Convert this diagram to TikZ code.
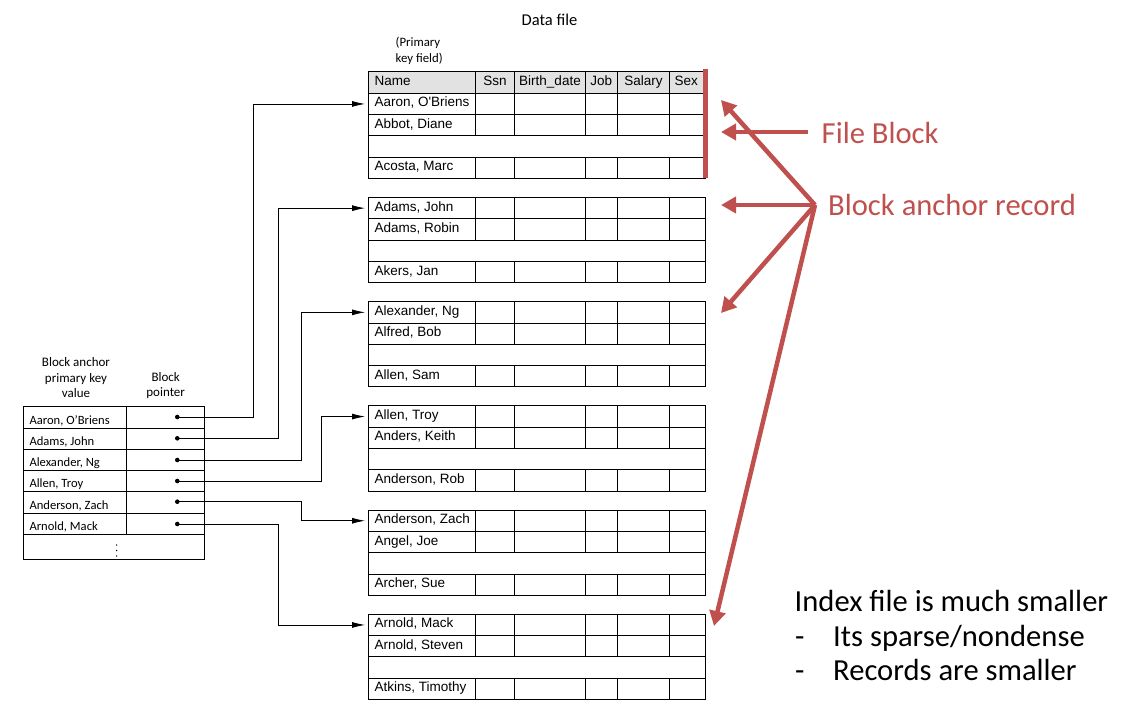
\documentclass[tikz,border=0pt]{standalone}
\usepackage{fontspec}
\setmainfont{Carlito}
\newfontfamily\arialf{Liberation Sans}
\usetikzlibrary{arrows.meta}
\definecolor{accent}{HTML}{C0504D}
\definecolor{hdrgray}{HTML}{E2E2E2}

\tikzset{
  tabline/.style={line width=0.9pt, black},
  cell/.style={inner sep=0pt, anchor=base west, font=\arialf\fontsize{13.5}{16}\selectfont},
  hcell/.style={inner sep=0pt, anchor=base, font=\arialf\fontsize{13.5}{16}\selectfont},
  ixcell/.style={inner sep=0pt, anchor=base west, font=\fontsize{12.6}{14}\selectfont},
  ixhead/.style={inner sep=0pt, align=center, font=\fontsize{13}{15.5}\selectfont},
  ptr/.style={line width=0.8pt, -{Latex[length=13pt,width=6pt]}},
  ptrdot/.style={circle, fill=black, inner sep=0pt, minimum size=4.6pt},
  callout/.style={accent, line width=4.5pt, -{Triangle[length=15pt,width=16pt]}},
  bigtext/.style={inner sep=0pt, anchor=base west, font=\fontsize{30.6}{36}\selectfont},
}

% one block of the data file: #1 block number, #2..#4 names in rows 1, 2 and 4
\newcommand\dblock[4]{%
  \pgfmathsetmacro\yt{93.3+104.2*#1}
  \draw[tabline] (368,\yt) rectangle (705,\yt+85.2);
  \foreach \r in {1,2,3} \draw[tabline] (368,\yt+21.3*\r) -- (705,\yt+21.3*\r);
  \foreach \c in {475.3,514.3,585.3,617.3,669.3} {
    \draw[tabline] (\c,\yt) -- (\c,\yt+42.6);
    \draw[tabline] (\c,\yt+63.9) -- (\c,\yt+85.2);
  }
  \node[cell] (r#1a) at (374.3,\yt+13.6) {#2};
  \node[cell] (r#1b) at (374.3,\yt+34.9) {#3};
  \node[cell] (r#1d) at (374.3,\yt+77.5) {#4};
  \coordinate (t#1) at (365,\yt+10.65);
}

\begin{document}
\begin{tikzpicture}[x=1pt,y=-1pt]
\useasboundingbox (0,0) rectangle (1125,712);

% title
\node[inner sep=0pt, anchor=base, font=\fontsize{16.5}{20}\selectfont] (title) at (549.5,25) {Data file};
\node[inner sep=0pt, align=left, anchor=west, font=\fontsize{12.8}{16}\selectfont] (pkf) at (395.5,51) {(Primary\\key field)};

% header row of the data file
\fill[hdrgray] (368,71) rectangle (705,93.3);
\draw[tabline] (368,71) rectangle (705,93.3);
\foreach \c in {475.3,514.3,585.3,617.3,669.3} \draw[tabline] (\c,71) -- (\c,93.3);
\node[cell] (hName) at (374.3,85.5) {Name};
\node[hcell] (hSsn) at (495,85.5) {Ssn};
\node[hcell] (hBirth) at (550,85.5) {Birth\_date};
\node[hcell] (hJob) at (601.3,85.5) {Job};
\node[hcell] (hSal) at (643.5,85.5) {Salary};
\node[hcell] (hSex) at (686.3,85.5) {Sex};

% data blocks
\dblock{0}{Aaron, O'Briens}{Abbot, Diane}{Acosta, Marc}
\dblock{1}{Adams, John}{Adams, Robin}{Akers, Jan}
\dblock{2}{Alexander, Ng}{Alfred, Bob}{Allen, Sam}
\dblock{3}{Allen, Troy}{Anders, Keith}{Anderson, Rob}
\dblock{4}{Anderson, Zach}{Angel, Joe}{Archer, Sue}
\dblock{5}{Arnold, Mack}{Arnold, Steven}{Atkins, Timothy}

% file block marker
\draw[accent, line width=5pt] (705,69) -- (705,178);

% index file
\node[ixhead] (ixh1) at (76,378) {Block anchor\\primary key\\value};
\node[ixhead] (ixh2) at (165.7,385.5) {Block\\pointer};
\draw[tabline] (23.3,406.7) rectangle (204.3,559.3);
\foreach \i in {1,...,6} \draw[tabline] (23.3,406.7+21.27*\i) -- (204.3,406.7+21.27*\i);
\draw[tabline] (126.7,406.7) -- (126.7,534.3);
\foreach \n [count=\i from 0] in {{Aaron, O'Briens},{Adams, John},{Alexander, Ng},{Allen, Troy},{Anderson, Zach},{Arnold, Mack}}
  \node[ixcell] (ix\i) at (29.3,406.7+21.27*\i+17.3) {\n};
\foreach \y [count=\i from 0] in {417,438.3,460,481,501.7,524}
  \node[ptrdot] (p\i) at (177.3,\y) {};
\foreach \y in {545,550.5,556} \fill (116.7,\y) circle (0.75pt);

% block pointers
\draw[ptr] (p0.center) -- ++(76,0) |- (t0);
\draw[ptr] (p1.center) -- ++(101,0) |- (t1);
\draw[ptr] (p2.center) -- ++(124.4,0) |- (t2);
\draw[ptr] (p3.center) -- ++(144.4,0) |- (t3);
\draw[ptr] (p4.center) -- ++(124.4,0) |- (t4);
\draw[ptr] (p5.center) -- ++(101,0) |- (t5);

% annotations
\coordinate (hub) at (815,205);
\coordinate (fbs) at (808,132);
\coordinate (fbe) at (721,132);
\coordinate (a0) at (721,100);
\coordinate (a1) at (721,205);
\coordinate (a2) at (721,313);
\coordinate (a5) at (714,626);
\draw[callout] (fbs) -- (fbe);
\draw[callout] (hub) -- (a0);
\draw[callout] (hub) -- (a1);
\draw[callout] (hub) -- (a2);
\draw[callout] (hub) -- (a5);
\node[bigtext, text=accent] (fblabel) at (821.5,143.3) {File Block};
\node[bigtext, text=accent] (balabel) at (828,215) {Block anchor record};

\node[bigtext] (note0) at (794.5,611.7) {Index file is much smaller};
\node[bigtext] (dash1) at (795,646) {-};
\node[bigtext] (note1) at (833,646) {Its sparse/nondense};
\node[bigtext] (dash2) at (795,680) {-};
\node[bigtext] (note2) at (833,680) {Records are smaller};
\end{tikzpicture}
\end{document}
